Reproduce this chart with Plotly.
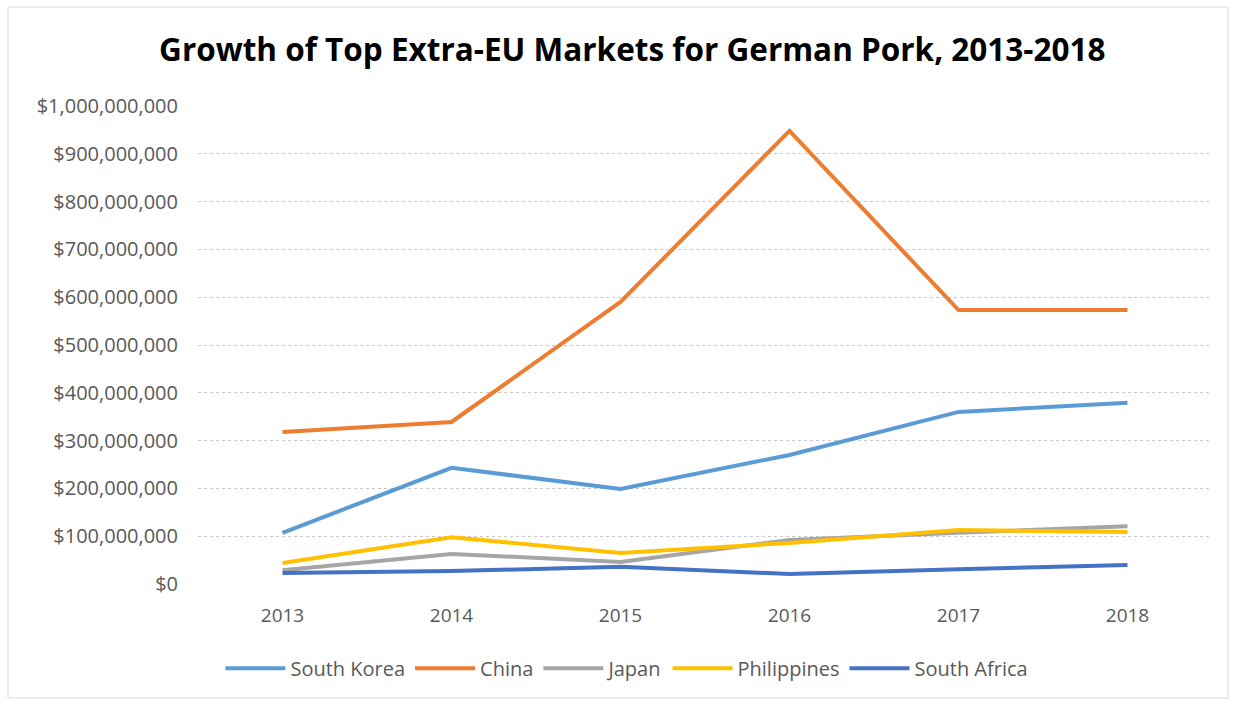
import plotly.graph_objects as go

years = ["2013", "2014", "2015", "2016", "2017", "2018"]
south_korea = [107e6, 243e6, 199e6, 270e6, 360e6, 379e6]
china = [318e6, 339e6, 590e6, 948e6, 573e6, 573e6]
japan = [29e6, 63e6, 46e6, 92e6, 107e6, 121e6]
philippines = [44e6, 98e6, 65e6, 86e6, 113e6, 109e6]
south_africa = [23e6, 27e6, 36e6, 21e6, 31e6, 40e6]

series = [
    ("South Korea", south_korea, "#5B9BD5"),
    ("China", china, "#ED7D31"),
    ("Japan", japan, "#A5A5A5"),
    ("Philippines", philippines, "#FFC000"),
    ("South Africa", south_africa, "#4472C4"),
]

fig = go.Figure()
for name, vals, color in series:
    fig.add_trace(go.Scatter(x=years, y=vals, name=name, mode="lines",
                             line=dict(color=color, width=4)))

tickvals = [i * 100e6 for i in range(11)]
ticktext = ["$0"] + ["${:,}".format(int(v)) for v in tickvals[1:]]

fig.update_layout(
    width=1235, height=705,
    margin=dict(l=198, r=23, t=106, b=121),
    paper_bgcolor="white", plot_bgcolor="white",
    font=dict(family="Open Sans, sans-serif", color="#595959", size=20),
    title=dict(text="<b>Growth of Top Extra-EU Markets for German Pork, 2013-2018</b>",
               x=0.512, xanchor="center", y=0.929, yanchor="middle",
               font=dict(size=31.5, color="#000000", family="Open Sans, sans-serif")),
    xaxis=dict(type="category", range=[-0.5, 5.5], showgrid=False, showline=False,
               ticks="", ticklabelstandoff=18, tickfont=dict(size=19, color="#595959")),
    yaxis=dict(range=[0, 1e9], tickvals=tickvals, ticktext=ticktext,
               showgrid=True, gridcolor="#C8C8C8", griddash="dot", gridwidth=1,
               zeroline=False, showline=False, ticks="", ticklen=0,
               ticklabelstandoff=19,
               tickfont=dict(size=20, color="#595959")),
    legend=dict(orientation="h", x=0.423, xanchor="center", y=-0.176, yanchor="middle",
                font=dict(size=20, color="#595959"), itemwidth=60, tracegroupgap=0),
    shapes=[dict(type="rect", xref="paper", yref="paper",
                 x0=(8 - 198) / 1014, x1=(1228 - 198) / 1014,
                 y0=(584 - 698) / 478, y1=(584 - 7) / 478,
                 line=dict(color="#D9D9D9", width=1), fillcolor="rgba(0,0,0,0)")],
)

fig.write_html("out.html")
